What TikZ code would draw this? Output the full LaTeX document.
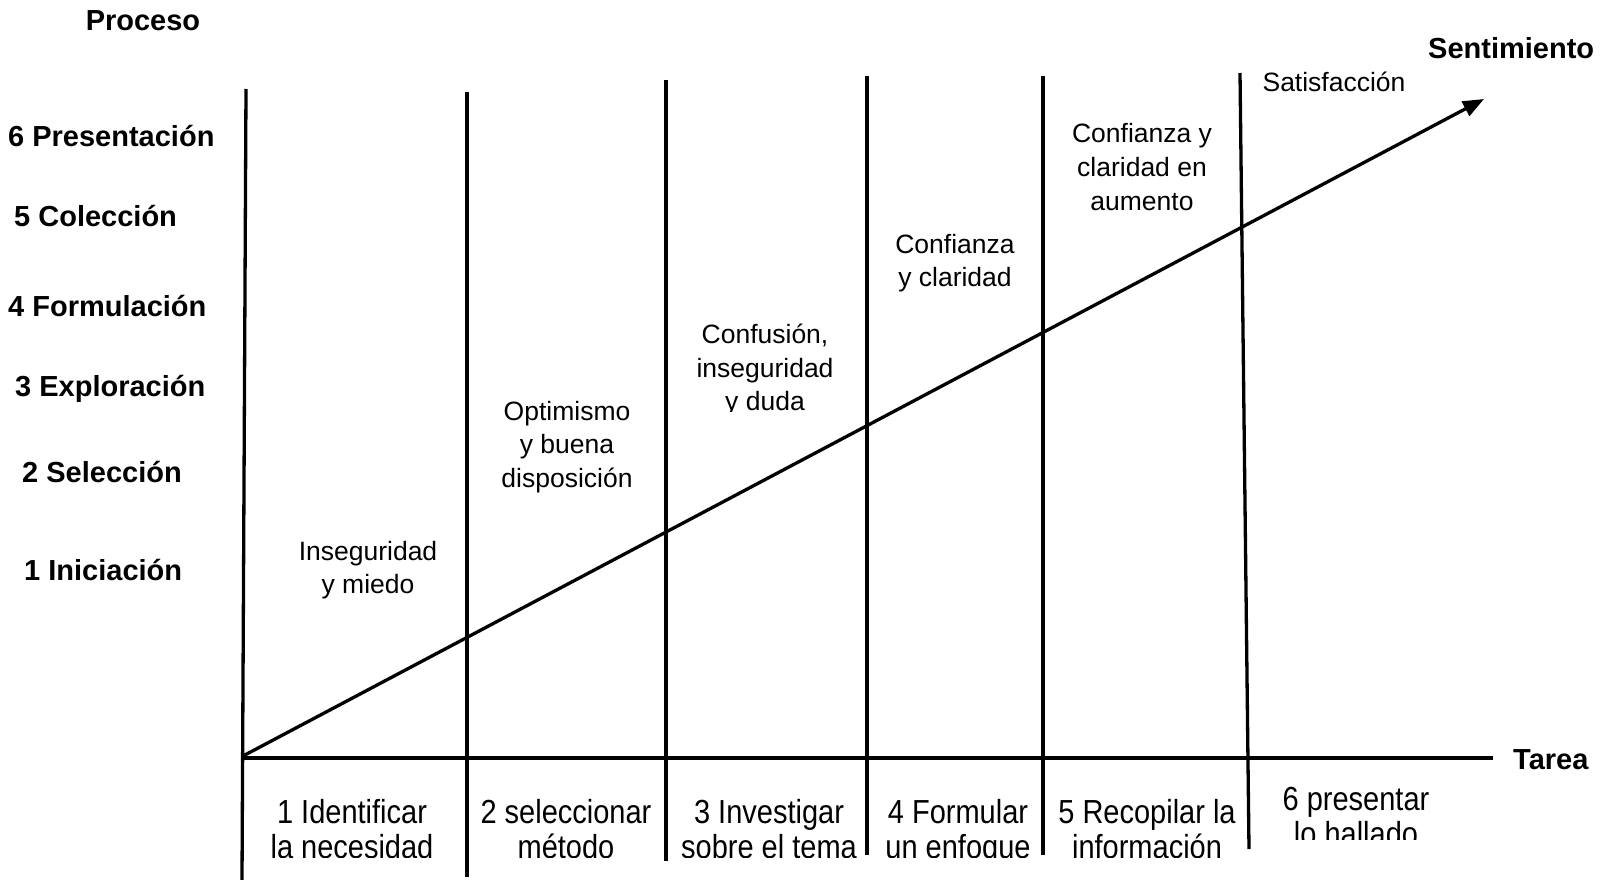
\documentclass[tikz,border=0pt]{standalone}
\usepackage{fontspec}
\setmainfont{Liberation Sans}
\usetikzlibrary{arrows.meta}
\begin{document}
\begin{tikzpicture}[x=1pt,y=-1pt,
  axis/.style={line width=3.3pt},
  proc/.style={font=\fontsize{29}{33}\selectfont\bfseries, anchor=west, inner sep=0pt},
  title/.style={font=\fontsize{29}{33}\selectfont\bfseries, inner sep=0pt},
  feel/.style={font=\fontsize{26.5}{33.7}\selectfont, align=center, inner sep=0pt},
  task/.style={inner sep=0pt}]
\useasboundingbox (0,0) rectangle (1603,880);
% coordinates of grid
\coordinate (v0t) at (246,89);   \coordinate (v0b) at (242,880);
\coordinate (v1t) at (467,92);   \coordinate (v1b) at (467,877);
\coordinate (v2t) at (666,80);   \coordinate (v2b) at (666,861);
\coordinate (v3t) at (867,76);   \coordinate (v3b) at (867,855);
\coordinate (v4t) at (1043,76);  \coordinate (v4b) at (1043,855);
\coordinate (v5t) at (1240,73);  \coordinate (v5b) at (1249,849);
\coordinate (ax0) at (243,758);  \coordinate (ax1) at (1493,758);
\coordinate (ar0) at (243,756);  \coordinate (ar1) at (1484,99);
\foreach \i in {0,...,5} {\draw[axis] (v\i t) -- (v\i b);}
\draw[axis] (ax0) -- (ax1);
\draw[axis, -{Triangle[length=21pt,width=16pt]}] (ar0) -- (ar1);
% axis titles
\node[title] (proceso) at (143,21) {Proceso};
\node[title, anchor=west] (sent) at (1428,48) {Sentimiento};
\node[title, anchor=west] (tarea) at (1513,760) {Tarea};
% process labels
\node[proc] (p6) at (8,136) {6 Presentación};
\node[proc] (p5) at (14,216) {5 Colección};
\node[proc] (p4) at (8,306) {4 Formulación};
\node[proc] (p3) at (15,389) {3 Exploración};
\node[proc] (p2) at (22,472) {2 Selección};
\node[proc] (p1) at (24,570) {1 Iniciación};
% feelings
\node[feel] (f1) at (368,570) {Inseguridad\\y miedo};
\node[feel] (f2) at (567,447) {Optimismo\\y buena\\disposición};
\begin{scope}
\clip (666,300) rectangle (867,411);
\node[feel] (f3) at (765,370) {Confusión,\\inseguridad\\y duda};
\end{scope}
\node[feel] (f4) at (955,263) {Confianza\\y claridad};
\node[feel] (f5) at (1142,167) {Confianza y\\claridad en\\aumento};
\node[feel] (f6) at (1334,82) {Satisfacción};
% tasks
\newcommand{\tasktext}[1]{\scalebox{1}[1.15]{\fontsize{29}{31}\selectfont\begin{tabular}{@{}c@{}}#1\end{tabular}}}
\begin{scope}
\clip (243,760) rectangle (1249,857);
\node[task] (t1) at (352,834) {\tasktext{1 Identificar\\la necesidad}};
\node[task] (t2) at (566,834) {\tasktext{2 seleccionar\\método}};
\node[task] (t3) at (769,834) {\tasktext{3 Investigar\\sobre el tema}};
\node[task] (t4) at (958,834) {\tasktext{4 Formular\\un enfoque}};
\node[task] (t5) at (1147,834) {\tasktext{5 Recopilar la\\información}};
\end{scope}
\begin{scope}
\clip (1249,760) rectangle (1480,839);
\node[task] (t6) at (1356,821) {\tasktext{6 presentar\\lo hallado}};
\end{scope}
\end{tikzpicture}
\end{document}
